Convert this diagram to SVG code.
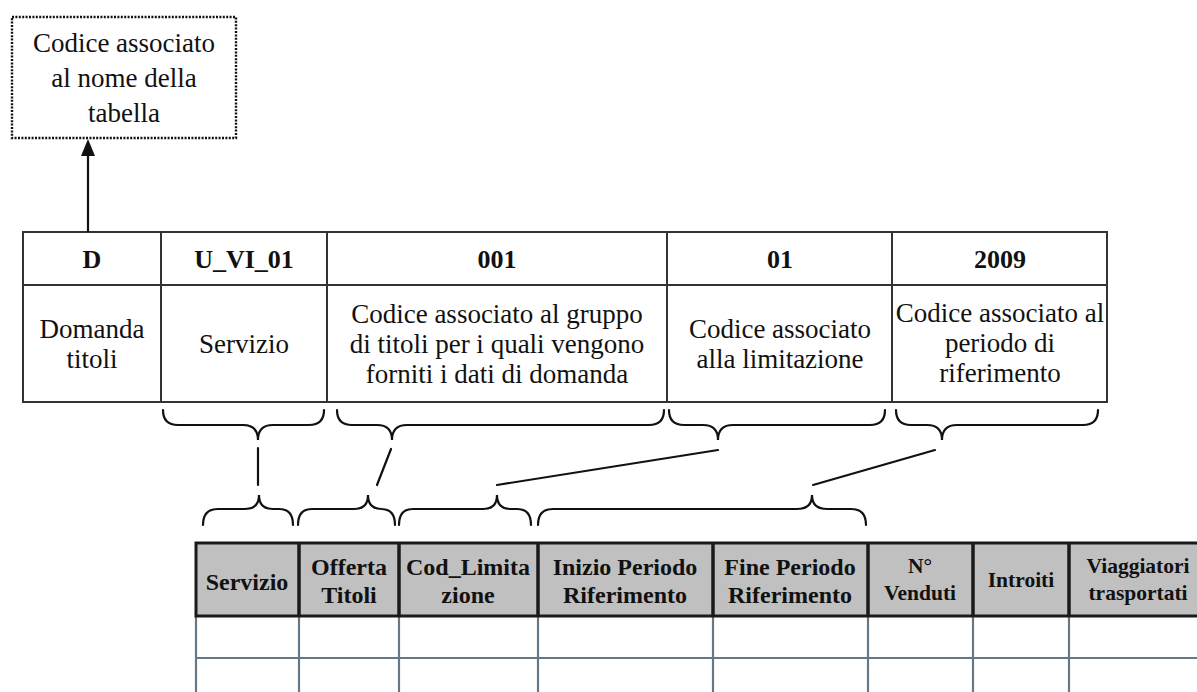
<svg xmlns="http://www.w3.org/2000/svg" width="1197" height="692" viewBox="0 0 1197 692">
<style>
.t{font-family:"Liberation Serif","Times New Roman",serif;fill:#111;text-anchor:middle}
.reg{font-size:27px}
.box{font-size:27px}
.hb{font-size:26px;font-weight:bold}
.lh{font-size:24px;font-weight:bold}
.ls{font-size:21.5px;font-weight:bold}
.grid{stroke:#333;stroke-width:2;fill:none}
.brace{stroke:#111;stroke-width:2.2;fill:none;stroke-linecap:round}
.body{stroke:#647888;stroke-width:2.2}
</style>
<rect width="1197" height="692" fill="#fff"/>

<g id="note-box">
<rect x="12" y="17" width="224" height="121" fill="#fff" stroke="#111" stroke-width="2.4" stroke-dasharray="2,1.4"/>
<text class="t box" x="124" y="52">Codice associato</text>
<text class="t box" x="124" y="87">al nome della</text>
<text class="t box" x="124" y="122">tabella</text>
</g>

<g id="code-table">
<rect x="23" y="232" width="1084" height="170" fill="#fff" class="grid"/>
<line x1="23" y1="285" x2="1107" y2="285" class="grid"/>
<line x1="161" y1="232" x2="161" y2="402" class="grid"/>
<line x1="327" y1="232" x2="327" y2="402" class="grid"/>
<line x1="667" y1="232" x2="667" y2="402" class="grid"/>
<line x1="892" y1="232" x2="892" y2="402" class="grid"/>
<text class="t hb" x="92" y="268">D</text>
<text class="t hb" x="244" y="268">U_VI_01</text>
<text class="t hb" x="497" y="268">001</text>
<text class="t hb" x="780" y="268">01</text>
<text class="t hb" x="1000" y="268">2009</text>
<text class="t reg" x="92" y="338">Domanda</text>
<text class="t reg" x="92" y="368">titoli</text>
<text class="t reg" x="244" y="353">Servizio</text>
<text class="t reg" x="497" y="323">Codice associato al gruppo</text>
<text class="t reg" x="497" y="353">di titoli per i quali vengono</text>
<text class="t reg" x="497" y="383">forniti i dati di domanda</text>
<text class="t reg" x="780" y="338">Codice associato</text>
<text class="t reg" x="780" y="368">alla limitazione</text>
<text class="t reg" x="1000" y="322">Codice associato al</text>
<text class="t reg" x="1000" y="352">periodo di</text>
<text class="t reg" x="1000" y="382">riferimento</text>
</g>

<g id="data-table">
<rect x="196" y="543" width="1010" height="73" fill="#c0c0c0"/>
<line x1="196" y1="616" x2="196" y2="692" class="body"/>
<line x1="299" y1="616" x2="299" y2="692" class="body"/>
<line x1="399" y1="616" x2="399" y2="692" class="body"/>
<line x1="538" y1="616" x2="538" y2="692" class="body"/>
<line x1="713" y1="616" x2="713" y2="692" class="body"/>
<line x1="868" y1="616" x2="868" y2="692" class="body"/>
<line x1="973" y1="616" x2="973" y2="692" class="body"/>
<line x1="1069" y1="616" x2="1069" y2="692" class="body"/>
<line x1="196" y1="658" x2="1197" y2="658" class="body"/>
<path d="M1200,543 H196 V616 H1200" fill="none" stroke="#1a1a1a" stroke-width="3"/>
<g stroke="#1a1a1a" stroke-width="3.5">
<line x1="299" y1="543" x2="299" y2="616"/>
<line x1="399" y1="543" x2="399" y2="616"/>
<line x1="538" y1="543" x2="538" y2="616"/>
<line x1="713" y1="543" x2="713" y2="616"/>
<line x1="868" y1="543" x2="868" y2="616"/>
<line x1="973" y1="543" x2="973" y2="616"/>
<line x1="1069" y1="543" x2="1069" y2="616"/>
</g>
<text class="t lh" x="247" y="590">Servizio</text>
<text class="t lh" x="349" y="575">Offerta</text>
<text class="t lh" x="349" y="603">Titoli</text>
<text class="t lh" x="468" y="575">Cod_Limita</text>
<text class="t lh" x="468" y="603">zione</text>
<text class="t lh" x="625" y="575">Inizio Periodo</text>
<text class="t lh" x="625" y="603">Riferimento</text>
<text class="t lh" x="790" y="575">Fine Periodo</text>
<text class="t lh" x="790" y="603">Riferimento</text>
<text class="t ls" x="920" y="573">N°</text>
<text class="t ls" x="920" y="600">Venduti</text>
<text class="t ls" x="1021" y="587">Introiti</text>
<text class="t ls" x="1138" y="573">Viaggiatori</text>
<text class="t ls" x="1138" y="600">trasportati</text>
</g>

<g id="connectors">
<line x1="88" y1="232" x2="88" y2="154" stroke="#111" stroke-width="2.2"/>
<polygon points="88,139 81,156 95,156" fill="#111"/>
<g class="brace">
<path d="M163,410 Q163,425 178,425 L243,425 Q258,425 258,440 Q258,425 273,425 L309,425 Q324,425 324,410"/>
<path d="M337,410 Q337,425 352,425 L377,425 Q392,425 392,440 Q392,425 407,425 L649,425 Q664,425 664,410"/>
<path d="M669,410 Q669,425 684,425 L703,425 Q718,425 718,440 Q718,425 733,425 L870,425 Q885,425 885,410"/>
<path d="M896,410 Q896,425 911,425 L927,425 Q942,425 942,440 Q942,425 957,425 L1083,425 Q1098,425 1098,410"/>
<path d="M203,525 Q203,509 218,509 L245,509 Q259,509 259,495 Q259,509 273,509 L279,509 Q293,509 293,525"/>
<path d="M298,525 Q298,509 312,509 L354,509 Q368,509 368,495 Q368,509 382,509 L381,509 Q395,509 395,525"/>
<path d="M399,525 Q399,509 413,509 L483,509 Q497,509 497,495 Q497,509 511,509 L517,509 Q531,509 531,525"/>
<path d="M538,525 Q538,509 553,509 L797,509 Q812,509 812,495 Q812,509 827,509 L851,509 Q866,509 866,525"/>
<line x1="258" y1="448" x2="258" y2="485"/>
<line x1="391" y1="449" x2="377" y2="485"/>
<line x1="718" y1="450" x2="497" y2="485"/>
<line x1="935" y1="450" x2="813" y2="485"/>
</g>
</g>
</svg>
